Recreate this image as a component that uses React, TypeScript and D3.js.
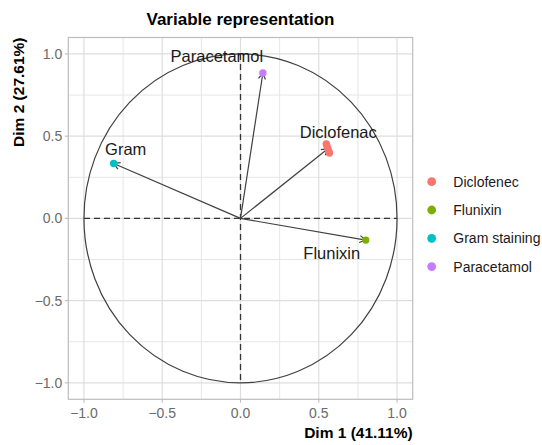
import React from "react";
import * as d3 from "d3";

const W = 542;
const H = 445;

// Variables (Dim 1, Dim 2 coordinates)
const varNames = ["Diclofenac", "Diclofenac", "Diclofenac", "Diclofenac", "Diclofenac", "Flunixin", "Gram", "Paracetamol"];
const varGroups = ["Diclofenec", "Diclofenec", "Diclofenec", "Diclofenec", "Diclofenec", "Flunixin", "Gram staining", "Paracetamol"];
const dim1 = [0.548, 0.553, 0.558, 0.563, 0.568, 0.80, -0.81, 0.143];
const dim2 = [0.452, 0.438, 0.424, 0.41, 0.398, -0.132, 0.334, 0.884];
const showLabel = [true, false, false, false, false, true, true, true];
const showArrow = [false, false, true, false, false, true, true, true];

// label offsets in px relative to the point (label centre, baseline)
const labelDx = [12, 0, 0, 0, 0, -34, 12, -46];
const labelDy = [-6, 0, 0, 0, 0, 19, -8, -11];

const groups = ["Diclofenec", "Flunixin", "Gram staining", "Paracetamol"];
const groupColors = ["#F8766D", "#7CAE00", "#00BFC4", "#C77CFF"];

const majorTicks = [-1.0, -0.5, 0.0, 0.5, 1.0];
const minorTicks = [-0.75, -0.25, 0.25, 0.75];

const title = "Variable representation";
const xTitle = "Dim 1 (41.11%)";
const yTitle = "Dim 2 (27.61%)";

const FONT = "'Liberation Sans', Arial, Helvetica, sans-serif";

export default function App() {
  const left = 68.3, right = 412.7, top = 37.5, bottom = 399.3;
  const x = d3.scaleLinear().domain([-1.1, 1.1]).range([left, right]);
  const y = d3.scaleLinear().domain([-1.1, 1.1]).range([bottom, top]);
  const color = d3.scaleOrdinal<string, string>().domain(groups).range(groupColors);
  const fmt = (v: number) => d3.format(".1f")(v).replace("-", "\u2212");

  const arrowLen = 7;
  const arrows = dim1.map((d, i) => {
    const x0 = x(0), y0 = y(0);
    const x1 = x(d), y1 = y(dim2[i]);
    const ang = Math.atan2(y1 - y0, x1 - x0);
    const a1 = ang + Math.PI - Math.PI / 6;
    const a2 = ang + Math.PI + Math.PI / 6;
    const head = `M${x1 + arrowLen * Math.cos(a1)},${y1 + arrowLen * Math.sin(a1)}L${x1},${y1}L${x1 + arrowLen * Math.cos(a2)},${y1 + arrowLen * Math.sin(a2)}`;
    return { x0, y0, x1, y1, head };
  });

  return (
    <svg width={W} height={H} style={{ position: "fixed", left: 0, top: 0, background: "#fff" }} fontFamily={FONT}>
      <rect x={0} y={0} width={W} height={H} fill="#fff" />
      {/* grid */}
      {minorTicks.map((t) => (
        <g key={"mn" + t}>
          <line x1={x(t)} x2={x(t)} y1={top} y2={bottom} stroke="#E6E6E6" strokeWidth={1} />
          <line x1={left} x2={right} y1={y(t)} y2={y(t)} stroke="#E6E6E6" strokeWidth={1} />
        </g>
      ))}
      {majorTicks.map((t) => (
        <g key={"mj" + t}>
          <line x1={x(t)} x2={x(t)} y1={top} y2={bottom} stroke="#DEDEDE" strokeWidth={1.2} />
          <line x1={left} x2={right} y1={y(t)} y2={y(t)} stroke="#DEDEDE" strokeWidth={1.2} />
        </g>
      ))}
      <rect x={left} y={top} width={right - left} height={bottom - top} fill="none" stroke="#BDBDBD" strokeWidth={1.2} />

      {/* ticks */}
      {majorTicks.map((t) => (
        <g key={"tk" + t}>
          <line x1={x(t)} x2={x(t)} y1={bottom} y2={bottom + 3.5} stroke="#BDBDBD" strokeWidth={1.1} />
          <text x={x(t)} y={418} textAnchor="middle" fontSize={14} fill="#6b6b6b">{fmt(t)}</text>
          <line x1={left - 3.5} x2={left} y1={y(t)} y2={y(t)} stroke="#BDBDBD" strokeWidth={1.1} />
          <text x={left - 6} y={y(t) + 5} textAnchor="end" fontSize={14} fill="#6b6b6b">{fmt(t)}</text>
        </g>
      ))}

      {/* circle */}
      <ellipse cx={x(0)} cy={y(0)} rx={x(1) - x(0)} ry={y(0) - y(1)} fill="none" stroke="#404040" strokeWidth={1.2} />
      {/* axes dashed */}
      <line x1={x(-1)} x2={x(1)} y1={y(0)} y2={y(0)} stroke="#333" strokeWidth={1.3} strokeDasharray="6,4" />
      <line x1={x(0)} x2={x(0)} y1={y(1)} y2={y(-1)} stroke="#333" strokeWidth={1.3} strokeDasharray="6,4" />

      {/* arrows */}
      {arrows.map((a, i) =>
        showArrow[i] ? (
          <g key={"ar" + i}>
            <line x1={a.x0} y1={a.y0} x2={a.x1} y2={a.y1} stroke="#404040" strokeWidth={1.2} />
            <path d={a.head} fill="none" stroke="#404040" strokeWidth={1.2} />
          </g>
        ) : null
      )}
      {/* points */}
      {dim1.map((d, i) => (
        <circle key={"pt" + i} cx={x(d)} cy={y(dim2[i])} r={3.7} fill={color(varGroups[i])} />
      ))}
      {/* labels */}
      {dim1.map((d, i) =>
        showLabel[i] ? (
          <text key={"lb" + i} x={x(d) + labelDx[i]} y={y(dim2[i]) + labelDy[i]} textAnchor="middle" fontSize={16.5} fill="#1a1a1a">
            {varNames[i]}
          </text>
        ) : null
      )}

      {/* title */}
      <text x={(left + right) / 2} y={25} textAnchor="middle" fontSize={17} fontWeight="bold" fill="#000">{title}</text>
      <text x={right} y={438} textAnchor="end" fontSize={15.5} fontWeight="bold" fill="#000">{xTitle}</text>
      <text transform={`translate(24,${top}) rotate(-90)`} textAnchor="end" fontSize={15.5} fontWeight="bold" fill="#000">{yTitle}</text>

      {/* legend */}
      {groups.map((g, i) => (
        <g key={"lg" + g} transform={`translate(0,${181.7 + i * 28.3})`}>
          <circle cx={431.7} cy={0} r={4.4} fill={color(g)} />
          <text x={453.3} y={5} fontSize={14} fill="#1a1a1a">{g}</text>
        </g>
      ))}
    </svg>
  );
}
